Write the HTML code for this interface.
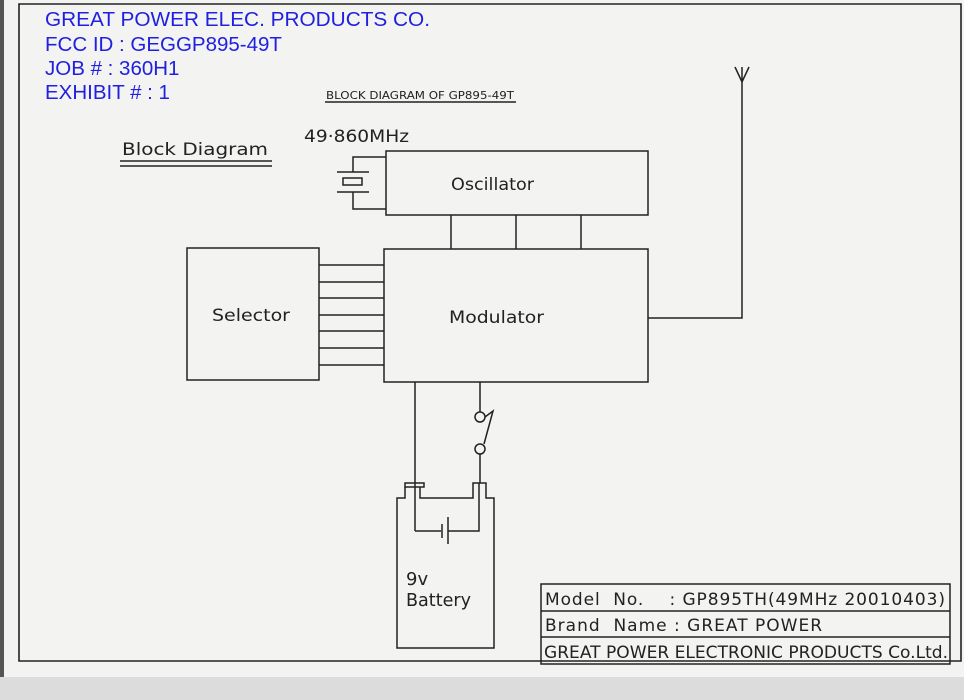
<!DOCTYPE html>
<html><head><meta charset="utf-8"><style>
html,body{margin:0;padding:0;background:#f3f3f1;}
svg{display:block;}
text{font-family:"DejaVu Sans","Liberation Sans",sans-serif;fill:#222;}
.b{font-family:"Liberation Sans",Arial,sans-serif;fill:#2020e0;font-size:20.5px;}
</style></head><body>
<svg width="964" height="700" viewBox="0 0 964 700" xmlns="http://www.w3.org/2000/svg">
<rect x="0" y="0" width="964" height="700" fill="#f3f3f1"/>
<rect x="0" y="677" width="964" height="23" fill="#dcdcdc"/>
<rect x="0" y="0" width="4" height="677" fill="#555"/>
<g stroke="#222" fill="none" stroke-width="1.5">
<path d="M19 4 H961 V661 H19 Z" stroke-width="1.6"/>
<line x1="325" y1="102" x2="516" y2="102"/>
<line x1="120" y1="161" x2="272" y2="161"/>
<line x1="120" y1="166" x2="272" y2="166"/>
<rect x="386" y="151" width="262" height="64"/>
<line x1="451" y1="215" x2="451" y2="249"/>
<line x1="516" y1="215" x2="516" y2="249"/>
<line x1="581" y1="215" x2="581" y2="249"/>
<path d="M386 157 H353 V172 M353 192 V209 H386"/>
<line x1="337" y1="172" x2="369" y2="172"/>
<line x1="337" y1="192" x2="369" y2="192"/>
<rect x="343" y="178" width="19" height="7"/>
<rect x="384" y="249" width="264" height="133"/>
<rect x="187" y="248" width="132" height="132"/>
<line x1="319" y1="265" x2="384" y2="265"/>
<line x1="319" y1="282" x2="384" y2="282"/>
<line x1="319" y1="298" x2="384" y2="298"/>
<line x1="319" y1="315" x2="384" y2="315"/>
<line x1="319" y1="331" x2="384" y2="331"/>
<line x1="319" y1="348" x2="384" y2="348"/>
<line x1="319" y1="365" x2="384" y2="365"/>
<path d="M648 318 H742 V82"/>
<path d="M735 67 L742 82 L749 67 M742 82 V67"/>
<line x1="415" y1="382" x2="415" y2="531"/>
<path d="M415 531 H441"/>
<line x1="442" y1="524" x2="442" y2="538"/>
<line x1="448" y1="517" x2="448" y2="544"/>
<path d="M448 531 H479 V483"/>
<line x1="480" y1="382" x2="480" y2="412"/>
<circle cx="480" cy="417" r="5"/>
<circle cx="480" cy="449" r="5"/>
<path d="M485 417 L493 411 L484 444"/>
<line x1="480" y1="454" x2="480" y2="483"/>
<rect x="405" y="483" width="19" height="4"/>
<path d="M405 487 V498 H397 V648 H494 V498 H486 V483 H473 V498 H420 V487"/>
<rect x="541" y="584" width="409" height="80"/>
<line x1="541" y1="611" x2="950" y2="611"/>
<line x1="541" y1="637" x2="950" y2="637"/>
</g>
<text class="b" x="45" y="26" textLength="385" lengthAdjust="spacingAndGlyphs">GREAT POWER ELEC. PRODUCTS CO.</text>
<text class="b" x="45" y="51">FCC ID : GEGGP895-49T</text>
<text class="b" x="45" y="75">JOB # : 360H1</text>
<text class="b" x="45" y="99">EXHIBIT # : 1</text>
<text x="326" y="99" font-size="11" font-family="Liberation Mono,monospace" textLength="188" lengthAdjust="spacingAndGlyphs">BLOCK  DIAGRAM OF GP895-49T</text>
<text x="122" y="155" font-size="17" textLength="146" lengthAdjust="spacingAndGlyphs">Block Diagram</text>
<text x="304" y="142" font-size="17" textLength="105" lengthAdjust="spacingAndGlyphs">49·860MHz</text>
<text x="451" y="190" font-size="17" textLength="83" lengthAdjust="spacingAndGlyphs">Oscillator</text>
<text x="212" y="321" font-size="17" textLength="78" lengthAdjust="spacingAndGlyphs">Selector</text>
<text x="449" y="323" font-size="17" textLength="95" lengthAdjust="spacingAndGlyphs">Modulator</text>
<text x="406" y="585" font-size="18">9v</text>
<text x="406" y="606" font-size="18" textLength="65" lengthAdjust="spacingAndGlyphs">Battery</text>
<text x="545" y="605" font-size="17" textLength="400" lengthAdjust="spacing" xml:space="preserve">Model  No.    : GP895TH(49MHz 20010403)</text>
<text x="545" y="631" font-size="17" textLength="277" lengthAdjust="spacing" xml:space="preserve">Brand  Name : GREAT POWER</text>
<text x="544" y="658" font-size="17" textLength="404" lengthAdjust="spacingAndGlyphs">GREAT POWER ELECTRONIC PRODUCTS Co.Ltd.</text>
</svg>
</body></html>
